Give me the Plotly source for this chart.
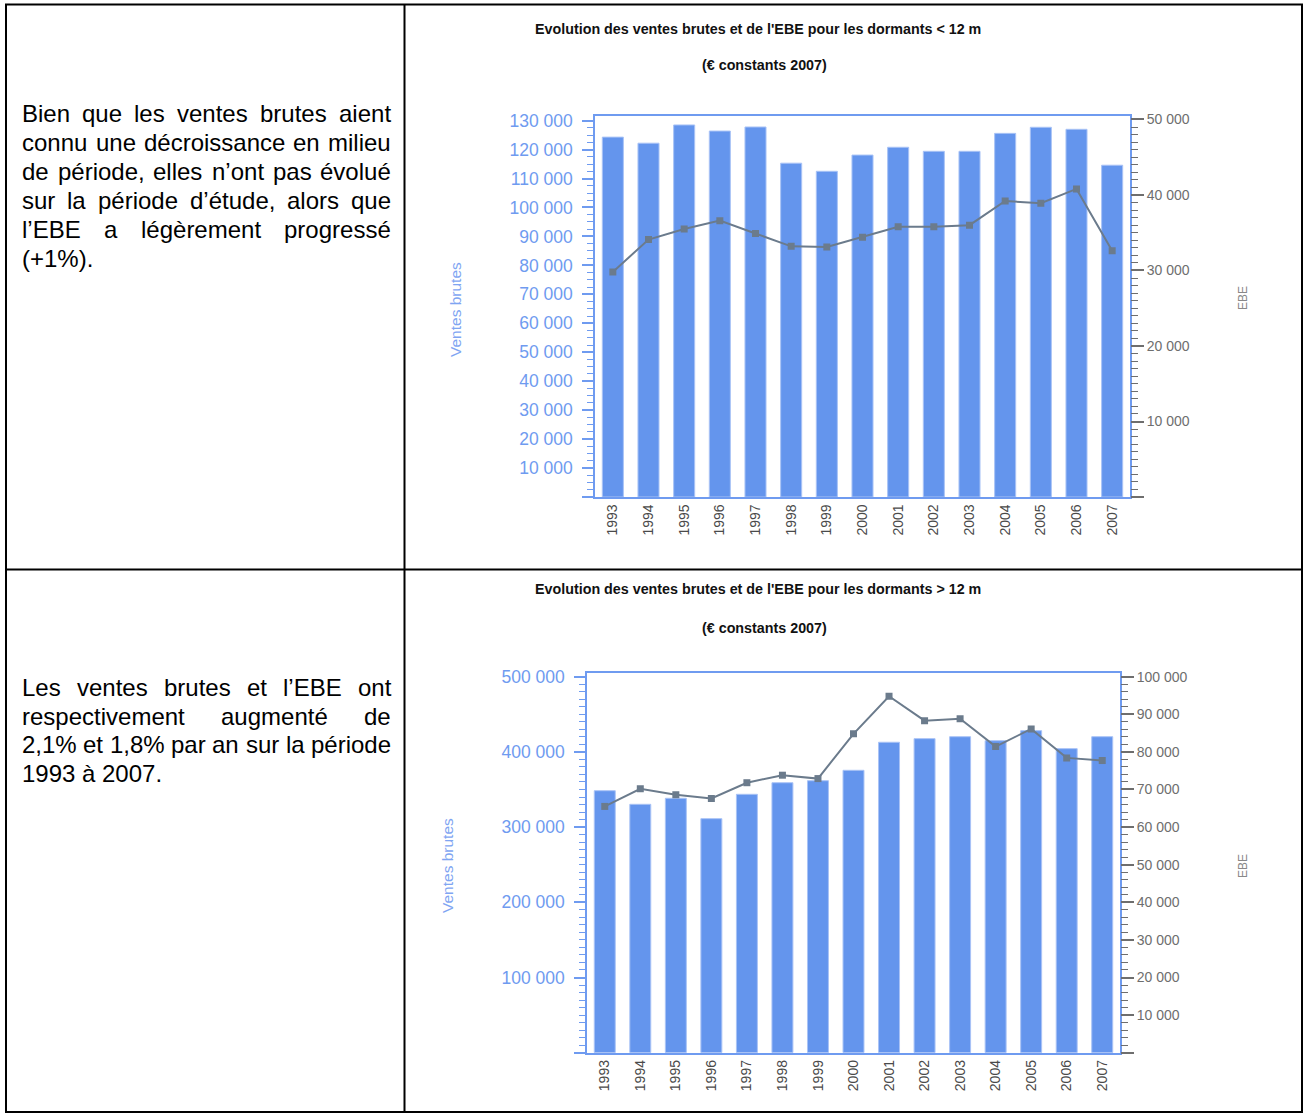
import plotly.graph_objects as go

W, H = 1305, 1115

# ---------------- data ----------------
years = ["1993", "1994", "1995", "1996", "1997", "1998", "1999", "2000",
         "2001", "2002", "2003", "2004", "2005", "2006", "2007"]

ventes_small = [124300, 122200, 128500, 126400, 127800, 115300, 112500, 118100,
                120800, 119400, 119400, 125600, 127700, 127000, 114600]
ebe_small = [29800, 34100, 35500, 36600, 34900, 33200, 33100, 34400,
             35800, 35800, 36000, 39200, 38900, 40800, 32600]

ventes_large = [348400, 330300, 338300, 311200, 343600, 359000, 361700, 375500,
                412800, 417600, 420200, 414900, 428200, 404300, 420200]
ebe_large = [65500, 70200, 68600, 67600, 71800, 73800, 72900, 84800,
             94800, 88300, 88800, 81400, 86100, 78400, 77700]

left_small_vals = [0, 10000, 20000, 30000, 40000, 50000, 60000, 70000, 80000,
                   90000, 100000, 110000, 120000, 130000]
left_small_text = ["", "10 000", "20 000", "30 000", "40 000", "50 000", "60 000",
                   "70 000", "80 000", "90 000", "100 000", "110 000", "120 000", "130 000"]
right_small_vals = [0, 10000, 20000, 30000, 40000, 50000]
right_small_text = ["", "10 000", "20 000", "30 000", "40 000", "50 000"]

left_large_vals = [0, 100000, 200000, 300000, 400000, 500000]
left_large_text = ["", "100 000", "200 000", "300 000", "400 000", "500 000"]
right_large_vals = [0, 10000, 20000, 30000, 40000, 50000, 60000, 70000, 80000, 90000, 100000]
right_large_text = ["", "10 000", "20 000", "30 000", "40 000", "50 000", "60 000",
                    "70 000", "80 000", "90 000", "100 000"]

title_small = "Evolution des ventes brutes et de l'EBE pour les dormants < 12 m"
title_large = "Evolution des ventes brutes et de l'EBE pour les dormants > 12 m"
subtitle = "(€ constants 2007)"

para_small = ["Bien que les ventes brutes aient",
              "connu une décroissance en milieu",
              "de période, elles n’ont pas évolué",
              "sur la période d’étude, alors que",
              "l’EBE a légèrement progressé",
              "(+1%)."]
para_large = ["Les ventes brutes et l’EBE ont",
              "respectivement augmenté de",
              "2,1% et 1,8% par an sur la période",
              "1993 à 2007."]

# ---------------- styles ----------------
BAR = "#6495ED"
BAR_EDGE = "#A9C3F6"
AXBLUE = "#6F9BF0"
LBLUE = "#7FA5F2"
LINE = "#6B7B8C"
GREY = "#6E6E6E"
FONT = "Liberation Sans, Arial, sans-serif"


def px(x):
    return x / W


def py(y):
    return 1 - y / H


fig = go.Figure()

fig.add_trace(go.Bar(x=years, y=ventes_small, xaxis="x", yaxis="y",
                     marker=dict(color=BAR, line=dict(color=BAR_EDGE, width=1))))
fig.add_trace(go.Scatter(x=years, y=ebe_small, xaxis="x", yaxis="y2", mode="lines+markers",
                         line=dict(color=LINE, width=2),
                         marker=dict(symbol="square", size=7, color=LINE)))
fig.add_trace(go.Bar(x=years, y=ventes_large, xaxis="x2", yaxis="y3",
                     marker=dict(color=BAR, line=dict(color=BAR_EDGE, width=1))))
fig.add_trace(go.Scatter(x=years, y=ebe_large, xaxis="x2", yaxis="y4", mode="lines+markers",
                         line=dict(color=LINE, width=2),
                         marker=dict(symbol="square", size=7, color=LINE)))


def xax(domain, anchor):
    return dict(domain=domain, anchor=anchor, type="category", range=[-0.5, 14.5],
                showline=True, linecolor=AXBLUE, linewidth=1.5, mirror=True,
                ticks="", tickangle=-90, showgrid=False, zeroline=False,
                tickfont=dict(family=FONT, size=14, color="#4A4A4A"))


def yleft(domain, anchor, rng, vals, text, minor_dtick):
    return dict(domain=domain, anchor=anchor, range=rng, tickmode="array",
                tickvals=vals, ticktext=text, ticks="outside", ticklen=11,
                tickwidth=1.5, tickcolor=AXBLUE, showline=True, linecolor=AXBLUE,
                linewidth=1.5, mirror=True, showgrid=False, zeroline=False,
                ticklabelstandoff=6,
                tickfont=dict(family=FONT, size=17.5, color=AXBLUE),
                minor=dict(dtick=minor_dtick, ticks="outside", ticklen=6,
                           tickcolor=AXBLUE, tickwidth=1, showgrid=False))


def yright(overlay, anchor, rng, vals, text, minor_dtick):
    return dict(overlaying=overlay, anchor=anchor, side="right", range=rng,
                tickmode="array", tickvals=vals, ticktext=text, ticks="outside",
                ticklen=13, tickwidth=1.5, tickcolor=GREY, showline=False,
                showgrid=False, zeroline=False,
                tickfont=dict(family=FONT, size=14, color=GREY),
                minor=dict(dtick=minor_dtick, ticks="outside", ticklen=7,
                           tickcolor=GREY, tickwidth=1, showgrid=False))


top_dom_x = [px(595), px(1130)]
top_dom_y = [py(497), py(115.7)]
bot_dom_x = [px(587), px(1120)]
bot_dom_y = [py(1052.7), py(673.3)]

fig.update_layout(
    width=W, height=H, template="none", showlegend=False,
    margin=dict(l=0, r=0, t=0, b=0),
    paper_bgcolor="white", plot_bgcolor="white",
    bargap=0.41,
    xaxis=xax(top_dom_x, "y"),
    yaxis=yleft(top_dom_y, "x", [0, 131700], left_small_vals, left_small_text, 2500),
    yaxis2=yright("y", "x", [0, 50500], right_small_vals, right_small_text, 1000),
    xaxis2=xax(bot_dom_x, "y3"),
    yaxis3=yleft(bot_dom_y, "x2", [0, 504500], left_large_vals, left_large_text, 10000),
    yaxis4=yright("y3", "x2", [0, 100900], right_large_vals, right_large_text, 2000),
)

# ---------------- table borders ----------------
shapes = []
def hline(y, x0, x1):
    shapes.append(dict(type="line", xref="paper", yref="paper", x0=px(x0), x1=px(x1),
                       y0=py(y), y1=py(y), line=dict(color="black", width=2)))
def vline(x, y0, y1):
    shapes.append(dict(type="line", xref="paper", yref="paper", x0=px(x), x1=px(x),
                       y0=py(y0), y1=py(y1), line=dict(color="black", width=2)))

hline(4.5, 5, 1303)
hline(569.5, 5, 1303)
hline(1112, 5, 1303)
vline(6, 4.5, 1112)
vline(404.5, 4.5, 1112)
vline(1302, 4.5, 1112)
fig.update_layout(shapes=shapes)

# ---------------- text ----------------
ann = []

def text_at(x, y, s, size, color="black", family=FONT, xanchor="center", angle=0, bold=False):
    if bold:
        s = "<b>" + s + "</b>"
    ann.append(dict(xref="paper", yref="paper", x=px(x), y=py(y), text=s,
                    showarrow=False, xanchor=xanchor, yanchor="middle",
                    textangle=angle, borderpad=0,
                    font=dict(family=family, size=size, color=color)))

# chart titles
text_at(758, 29, title_small, 14.3, "#111111", bold=True)
text_at(765, 65, subtitle, 14.3, "#111111", bold=True)
text_at(758, 589, title_large, 14.3, "#111111", bold=True)
text_at(765, 628, subtitle, 14.3, "#111111", bold=True)

# axis titles
text_at(455, 310, "Ventes brutes", 15.5, LBLUE, angle=-90)
text_at(447, 866, "Ventes brutes", 15.5, LBLUE, angle=-90)
text_at(1243, 298, "EBE", 12, "#888888", angle=-90)
text_at(1243, 866, "EBE", 12, "#888888", angle=-90)

# justified paragraphs (Arial/Liberation advance widths, per 1000 em)
AW = {" ": 278, "a": 556, "b": 556, "c": 500, "d": 556, "e": 556, "f": 278, "g": 556,
      "h": 556, "i": 222, "j": 222, "k": 500, "l": 222, "m": 833, "n": 556, "o": 556,
      "p": 556, "q": 556, "r": 333, "s": 500, "t": 278, "u": 556, "v": 500, "w": 722,
      "x": 500, "y": 500, "z": 500, "é": 556, "è": 556, "à": 556, "B": 667, "E": 667,
      "L": 556, ",": 278, ".": 278, "’": 222, "(": 333, ")": 333, "+": 584, "%": 889}
for d in "0123456789":
    AW[d] = 556

PFS = 24
L_MARG, R_MARG = 21, 390

def paragraph(lines, centers):
    for i, (line, yc) in enumerate(zip(lines, centers)):
        words = line.split(" ")
        widths = [sum(AW.get(c, 556) for c in w) * PFS / 1000 for w in words]
        last = i == len(lines) - 1
        if not last and len(words) > 1:
            gap = (R_MARG - L_MARG - sum(widths)) / (len(words) - 1)
        else:
            gap = AW[" "] * PFS / 1000
        x = L_MARG
        for w, wd in zip(words, widths):
            text_at(x, yc, w, PFS, "black", FONT, xanchor="left")
            x += wd + gap

paragraph(para_small, [114, 143, 172, 200.5, 229.5, 258.5])
paragraph(para_large, [687, 716, 744.5, 773.5])

fig.update_layout(annotations=ann)

fig.write_html("out.html", config={"displayModeBar": False},
               post_script="document.body.style.margin='0px';"
                           "document.body.style.overflow='hidden';")
